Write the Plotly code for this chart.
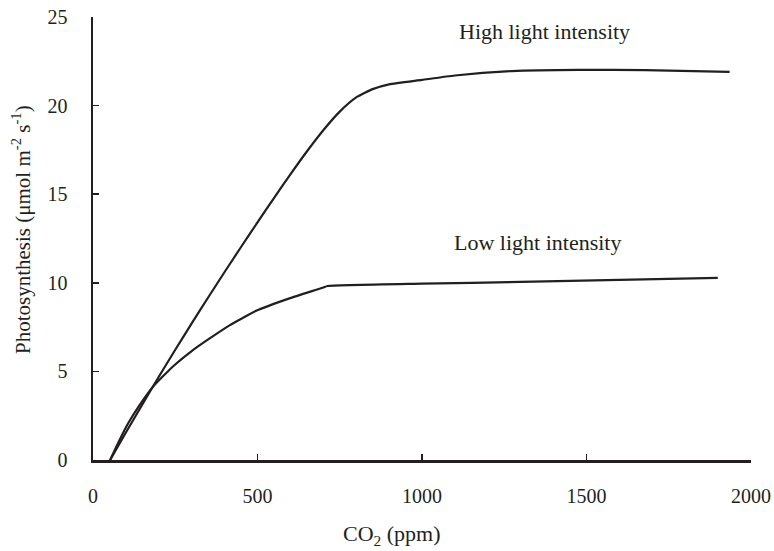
import plotly.graph_objects as go

high_x = [52, 100, 150, 200, 250, 300, 350, 400, 450, 500, 550, 600, 650, 700, 750, 800, 850, 900, 1000, 1100, 1273, 1476, 1678, 1935]
high_y = [0, 1.55, 3.14, 4.70, 6.22, 7.71, 9.17, 10.61, 12.02, 13.41, 14.78, 16.12, 17.41, 18.61, 19.66, 20.46, 20.93, 21.2, 21.45, 21.7, 21.95, 22.02, 22.0, 21.9]

low_x = [52, 80, 107, 140, 183, 243, 300, 349, 415, 496, 597, 698, 713, 1000, 1300, 1899]
low_y = [0, 1.1, 2.07, 3.05, 4.15, 5.28, 6.15, 6.79, 7.6, 8.42, 9.12, 9.72, 9.82, 9.95, 10.05, 10.28]

x_ticks = [0, 500, 1000, 1500, 2000]
y_ticks = [0, 5, 10, 15, 20, 25]

label_high = "High light intensity"
label_low = "Low light intensity"
x_title = "CO<sub>2</sub> (ppm)"
y_title = "Photosynthesis (μmol m<sup>-2</sup> s<sup>-1</sup>)"

FONT = "Liberation Serif"
INK = "#231f20"

fig = go.Figure()
fig.add_trace(go.Scatter(x=high_x, y=high_y, mode="lines",
                         line=dict(color=INK, width=2.2, shape="spline", smoothing=0.5),
                         showlegend=False, hoverinfo="skip"))
fig.add_trace(go.Scatter(x=low_x, y=low_y, mode="lines",
                         line=dict(color=INK, width=2.2, shape="spline", smoothing=0.4),
                         showlegend=False, hoverinfo="skip"))

fig.add_annotation(x=1373, y=24.2, text=label_high, showarrow=False, xanchor="center", yanchor="middle",
                   font=dict(family=FONT, size=22, color=INK))
fig.add_annotation(x=1350, y=12.3, text=label_low, showarrow=False, xanchor="center", yanchor="middle",
                   font=dict(family=FONT, size=22, color=INK))

# axis titles (placed as paper annotations to match the reference offsets)
fig.add_annotation(xref="paper", yref="paper", x=(392 - 93) / 658, y=(460 - 535) / 443, text=x_title,
                   showarrow=False, xanchor="center", yanchor="middle",
                   font=dict(family=FONT, size=22, color=INK))
fig.add_annotation(xref="paper", yref="paper", x=(22 - 93) / 658, y=(460 - 230) / 443, text=y_title,
                   showarrow=False, xanchor="center", yanchor="middle", textangle=-90,
                   font=dict(family=FONT, size=21, color=INK))

fig.update_layout(
    width=774, height=551,
    margin=dict(l=93, r=23, t=17, b=91, autoexpand=False),
    paper_bgcolor="white", plot_bgcolor="white",
    font=dict(family=FONT, size=20, color=INK),
    xaxis=dict(range=[0, 2000], tickvals=x_ticks, showgrid=False, zeroline=False, automargin=False,
               showline=True, linecolor=INK, linewidth=2.5, ticks="inside", ticklen=6, tickwidth=1.5,
               tickcolor=INK, ticklabelstandoff=16, ticklabeloverflow="allow",
               tickfont=dict(family=FONT, size=20, color=INK)),
    yaxis=dict(range=[0, 25], tickvals=y_ticks, showgrid=False, zeroline=False, automargin=False,
               showline=True, linecolor=INK, linewidth=2.5, ticks="inside", ticklen=6, tickwidth=1.5,
               tickcolor=INK, ticklabelstandoff=19, ticklabeloverflow="allow",
               tickfont=dict(family=FONT, size=20, color=INK)),
)

fig.write_html("out.html", config={"displayModeBar": False, "staticPlot": True})

# remove the browser's default page margin so the figure sits at the window's origin
with open("out.html", "r", encoding="utf-8") as f:
    html = f.read()
html = html.replace("<head>", "<head><style>html,body{margin:0;padding:0;overflow:hidden;}</style>", 1)
with open("out.html", "w", encoding="utf-8") as f:
    f.write(html)
